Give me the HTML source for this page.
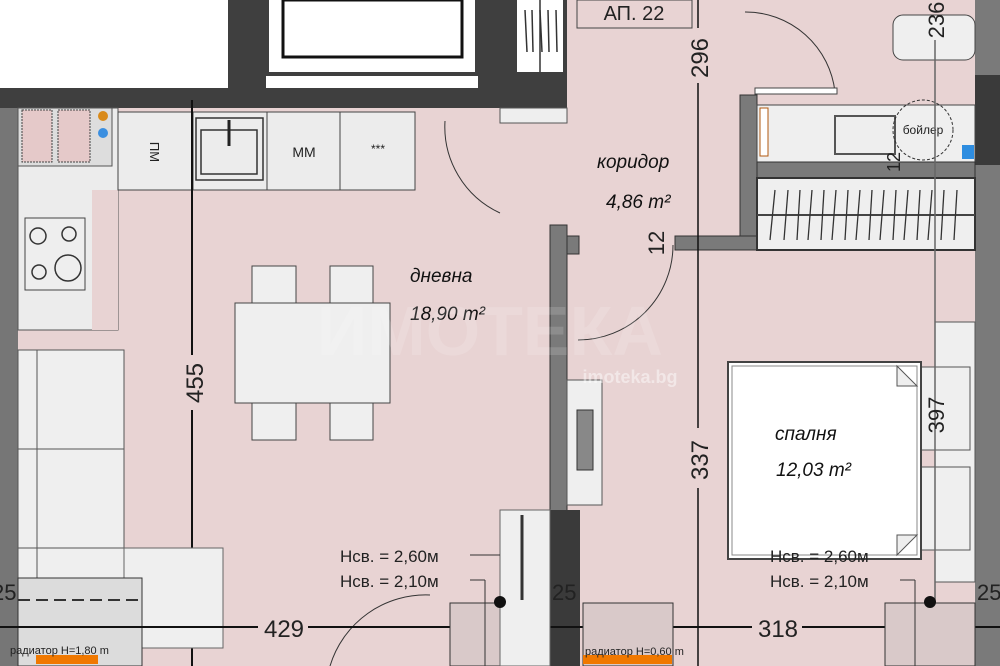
<!DOCTYPE html>
<html><head><meta charset="utf-8"><style>
html,body{margin:0;padding:0;background:#fff}
svg{display:block}
text{font-family:"Liberation Sans",sans-serif;fill:#222}
</style></head><body>
<svg width="1000" height="666" viewBox="0 0 1000 666" xmlns="http://www.w3.org/2000/svg">
<rect width="1000" height="666" fill="#fff"/>
<rect x="18" y="100" width="960" height="566" fill="#e8d3d3"/>
<rect x="565" y="0" width="410" height="110" fill="#e8d3d3"/>
<rect x="0" y="88" width="567" height="20" fill="#3f3f3f"/>
<rect x="228" y="0" width="38" height="100" fill="#3f3f3f"/>
<rect x="266" y="0" width="212" height="76" fill="#3f3f3f"/>
<rect x="269" y="0" width="206" height="72" fill="#fff"/>
<rect x="283" y="0" width="179" height="57" fill="none" stroke="#111" stroke-width="3"/>
<rect x="478" y="0" width="89" height="108" fill="#3f3f3f"/>
<rect x="517" y="0" width="46" height="72" fill="#fff"/>
<g stroke="#333" stroke-width="1.5">
<line x1="525" y1="10" x2="527" y2="52"/><line x1="532" y1="10" x2="533" y2="52"/><line x1="540" y1="10" x2="542" y2="52"/><line x1="548" y1="10" x2="549" y2="52"/><line x1="556" y1="10" x2="557" y2="52"/><line x1="540" y1="0" x2="540" y2="72"/></g>
<rect x="500" y="108" width="67" height="15" fill="#eee" stroke="#555"/>
<rect x="0" y="108" width="18" height="558" fill="#767676"/>
<rect x="975" y="0" width="25" height="666" fill="#7a7a7a"/>
<rect x="975" y="75" width="25" height="90" fill="#3a3a3a"/>
<rect x="18" y="108" width="100" height="222" fill="#ececec" stroke="#555"/>
<rect x="92" y="190" width="26" height="140" fill="#e8d3d3"/>
<rect x="18" y="108" width="94" height="58" fill="#ddd" stroke="#555"/>
<rect x="22" y="110" width="30" height="52" fill="#e5c9c9" stroke="#444" stroke-dasharray="2 1"/>
<rect x="58" y="110" width="32" height="52" fill="#e5c9c9" stroke="#444" stroke-dasharray="2 1"/>
<circle cx="103" cy="116" r="5" fill="#d98a1a"/><circle cx="103" cy="133" r="5" fill="#3b8fe0"/>
<rect x="25" y="218" width="60" height="72" fill="#eee" stroke="#444"/>
<circle cx="38" cy="236" r="8" fill="none" stroke="#333" stroke-width="1.5"/><circle cx="69" cy="234" r="7" fill="none" stroke="#333" stroke-width="1.5"/>
<circle cx="39" cy="272" r="7" fill="none" stroke="#333" stroke-width="1.5"/><circle cx="68" cy="268" r="13" fill="none" stroke="#333" stroke-width="1.5"/>
<rect x="118" y="112" width="297" height="78" fill="#ececec" stroke="#444"/>
<line x1="193" y1="112" x2="193" y2="190" stroke="#444"/><line x1="267" y1="112" x2="267" y2="190" stroke="#444"/><line x1="340" y1="112" x2="340" y2="190" stroke="#444"/>
<rect x="196" y="118" width="67" height="62" fill="none" stroke="#333" stroke-width="1.5"/><rect x="201" y="130" width="56" height="44" fill="none" stroke="#333" stroke-width="1.5"/>
<line x1="229" y1="120" x2="229" y2="146" stroke="#222" stroke-width="3"/>
<text x="0" y="0" font-size="13" transform="translate(150,152) rotate(90)" text-anchor="middle">ПМ</text>
<text x="304" y="157" font-size="14" text-anchor="middle">ММ</text>
<text x="378" y="153" font-size="12" text-anchor="middle">***</text>
<line x1="192" y1="100" x2="192" y2="666" stroke="#111" stroke-width="2"/>
<rect x="180" y="355" width="24" height="55" fill="#e8d3d3"/>
<text font-size="24" transform="translate(203,383) rotate(-90)" text-anchor="middle">455</text>
<rect x="252" y="266" width="44" height="38" fill="#efefef" stroke="#444"/><rect x="330" y="266" width="43" height="38" fill="#efefef" stroke="#444"/>
<rect x="252" y="403" width="44" height="37" fill="#efefef" stroke="#444"/><rect x="330" y="403" width="43" height="37" fill="#efefef" stroke="#444"/>
<rect x="235" y="303" width="155" height="100" fill="#efefef" stroke="#444"/>
<rect x="18" y="350" width="106" height="298" fill="#efefef" stroke="#555"/>
<line x1="37" y1="350" x2="37" y2="648" stroke="#555"/><line x1="18" y1="449" x2="124" y2="449" stroke="#555"/><line x1="18" y1="548" x2="223" y2="548" stroke="#555"/>
<rect x="124" y="548" width="99" height="100" fill="#efefef" stroke="#666"/>
<rect x="18" y="578" width="124" height="88" fill="#dcdcdc" stroke="#333"/>
<line x1="18" y1="600" x2="142" y2="600" stroke="#333" stroke-dasharray="12 6" stroke-width="2"/>
<rect x="36" y="655" width="62" height="9" fill="#f07800"/>
<text x="10" y="654" font-size="11" fill="#666">радиатор H=1,80 m</text>
<path d="M445 121 A95 95 0 0 0 500 213" fill="none" stroke="#333"/>
<path d="M673 245 A95 95 0 0 1 578 340" fill="none" stroke="#333"/>
<path d="M745 12 A90 90 0 0 1 835 92" fill="none" stroke="#333"/>
<rect x="755" y="88" width="82" height="6" fill="#fff" stroke="#444"/>
<path d="M330 666 A100 100 0 0 1 430 595" fill="none" stroke="#333"/>
<rect x="550" y="225" width="17" height="441" fill="#7a7a7a" stroke="#333"/>
<rect x="567" y="236" width="12" height="18" fill="#7a7a7a" stroke="#333"/>
<rect x="550" y="510" width="30" height="156" fill="#3a3a3a"/>
<rect x="567" y="380" width="35" height="125" fill="#efefef" stroke="#555"/>
<rect x="577" y="410" width="16" height="60" fill="#888" stroke="#333"/>
<rect x="740" y="95" width="17" height="155" fill="#7a7a7a" stroke="#333"/>
<rect x="675" y="236" width="82" height="14" fill="#7a7a7a" stroke="#333"/>
<rect x="757" y="105" width="218" height="57" fill="#efefef" stroke="#444"/>
<rect x="760" y="108" width="8" height="48" fill="#fff" stroke="#b05a10"/>
<rect x="835" y="116" width="60" height="38" fill="#eee" stroke="#555" stroke-width="2"/>
<circle cx="923" cy="130" r="30" fill="none" stroke="#333" stroke-dasharray="3 2"/>
<text x="923" y="134" font-size="12" text-anchor="middle">бойлер</text>
<rect x="962" y="145" width="12" height="14" fill="#2e8de0"/>
<rect x="757" y="162" width="218" height="16" fill="#7a7a7a" stroke="#333"/>
<rect x="757" y="178" width="218" height="72" fill="#efefef" stroke="#333" stroke-width="2"/>
<line x1="757" y1="215" x2="975" y2="215" stroke="#444" stroke-width="2"/>
<g stroke="#333" stroke-width="1.3">
<line x1="775" y1="190" x2="770" y2="240"/><line x1="788" y1="190" x2="784" y2="240"/><line x1="800" y1="190" x2="797" y2="240"/><line x1="812" y1="190" x2="808" y2="240"/><line x1="824" y1="190" x2="821" y2="240"/><line x1="836" y1="190" x2="832" y2="240"/><line x1="848" y1="190" x2="845" y2="240"/><line x1="860" y1="190" x2="856" y2="240"/><line x1="872" y1="190" x2="869" y2="240"/><line x1="884" y1="190" x2="880" y2="240"/><line x1="896" y1="190" x2="893" y2="240"/><line x1="908" y1="190" x2="904" y2="240"/><line x1="920" y1="190" x2="917" y2="240"/><line x1="932" y1="190" x2="928" y2="240"/><line x1="944" y1="190" x2="941" y2="240"/><line x1="957" y1="190" x2="954" y2="240"/></g>
<rect x="893" y="15" width="82" height="45" rx="10" fill="#efefef" stroke="#444"/>
<rect x="935" y="322" width="40" height="260" fill="#efefef" stroke="#555"/>
<rect x="917" y="367" width="53" height="83" fill="#efefef" stroke="#555"/>
<rect x="917" y="467" width="53" height="83" fill="#efefef" stroke="#555"/>
<rect x="728" y="362" width="193" height="197" fill="#fff" stroke="#444" stroke-width="2"/>
<rect x="732" y="366" width="185" height="189" fill="#fff" stroke="#888"/>
<path d="M897 366 L917 386 L897 386 Z" fill="#eee" stroke="#555"/>
<path d="M897 555 L917 535 L897 535 Z" fill="#eee" stroke="#555"/>
<line x1="698" y1="0" x2="698" y2="666" stroke="#111" stroke-width="1.5"/>
<rect x="685" y="28" width="26" height="55" fill="#e8d3d3"/>
<text font-size="24" transform="translate(708,58) rotate(-90)" text-anchor="middle">296</text>
<rect x="685" y="428" width="26" height="60" fill="#e8d3d3"/>
<text font-size="24" transform="translate(708,460) rotate(-90)" text-anchor="middle">337</text>
<line x1="935" y1="40" x2="935" y2="666" stroke="#666" stroke-width="1.5"/>
<text font-size="22" transform="translate(944,20) rotate(-90)" text-anchor="middle">236</text>
<text font-size="22" transform="translate(944,415) rotate(-90)" text-anchor="middle">397</text>
<text font-size="22" transform="translate(664,243) rotate(-90)" text-anchor="middle">12</text>
<text font-size="18" transform="translate(900,162) rotate(-90)" text-anchor="middle">12</text>
<rect x="577" y="0" width="115" height="28" fill="none" stroke="#444"/>
<text x="634" y="20" font-size="20" text-anchor="middle">АП. 22</text>
<line x1="0" y1="627" x2="1000" y2="627" stroke="#111" stroke-width="2"/>
<rect x="258" y="612" width="50" height="30" fill="#e8d3d3"/><text x="284" y="637" font-size="24" text-anchor="middle">429</text>
<rect x="752" y="612" width="50" height="30" fill="#e8d3d3"/><text x="778" y="637" font-size="24" text-anchor="middle">318</text>
<text x="-8" y="600" font-size="22">25</text><text x="552" y="600" font-size="22">25</text><text x="977" y="600" font-size="22">25</text>
<rect x="583" y="603" width="90" height="63" fill="#d9c9c9" stroke="#333"/>
<rect x="583" y="655" width="89" height="9" fill="#f07800"/>
<text x="585" y="655" font-size="11" fill="#555">радиатор H=0,60 m</text>
<rect x="885" y="603" width="90" height="63" fill="#d9c9c9" stroke="#333"/>
<rect x="450" y="603" width="50" height="63" fill="#d9c9c9" stroke="#333"/>
<rect x="500" y="510" width="50" height="156" fill="#efefef" stroke="#666"/>
<line x1="522" y1="515" x2="522" y2="600" stroke="#333" stroke-width="3"/>
<circle cx="500" cy="602" r="6" fill="#111"/><circle cx="930" cy="602" r="6" fill="#111"/>
<line x1="470" y1="555" x2="500" y2="555" stroke="#333"/><line x1="470" y1="580" x2="485" y2="580" stroke="#333"/><line x1="485" y1="580" x2="485" y2="666" stroke="#333"/>
<line x1="900" y1="580" x2="915" y2="580" stroke="#333"/><line x1="915" y1="580" x2="915" y2="666" stroke="#333"/>
<text x="340" y="562" font-size="17">Нсв. = 2,60м</text>
<text x="340" y="587" font-size="17">Нсв. = 2,10м</text>
<text x="770" y="562" font-size="17">Нсв. = 2,60м</text>
<text x="770" y="587" font-size="17">Нсв. = 2,10м</text>
<text x="410" y="282" font-size="19" font-style="italic" style="fill:#111">дневна</text>
<text x="410" y="320" font-size="19" font-style="italic" style="fill:#111">18,90 m²</text>
<text x="597" y="168" font-size="19" font-style="italic" style="fill:#111">коридор</text>
<text x="606" y="208" font-size="19" font-style="italic" style="fill:#111">4,86 m²</text>
<text x="775" y="440" font-size="19" font-style="italic" style="fill:#111">спалня</text>
<text x="776" y="476" font-size="19" font-style="italic" style="fill:#111">12,03 m²</text>
<text x="490" y="355" font-size="70" font-weight="bold" text-anchor="middle" style="fill:#fff;fill-opacity:.15">ИМОТЕКА</text>
<text x="630" y="383" font-size="18" font-weight="bold" text-anchor="middle" style="fill:#fff;fill-opacity:.45">imoteka.bg</text>
</svg>
</body></html>
